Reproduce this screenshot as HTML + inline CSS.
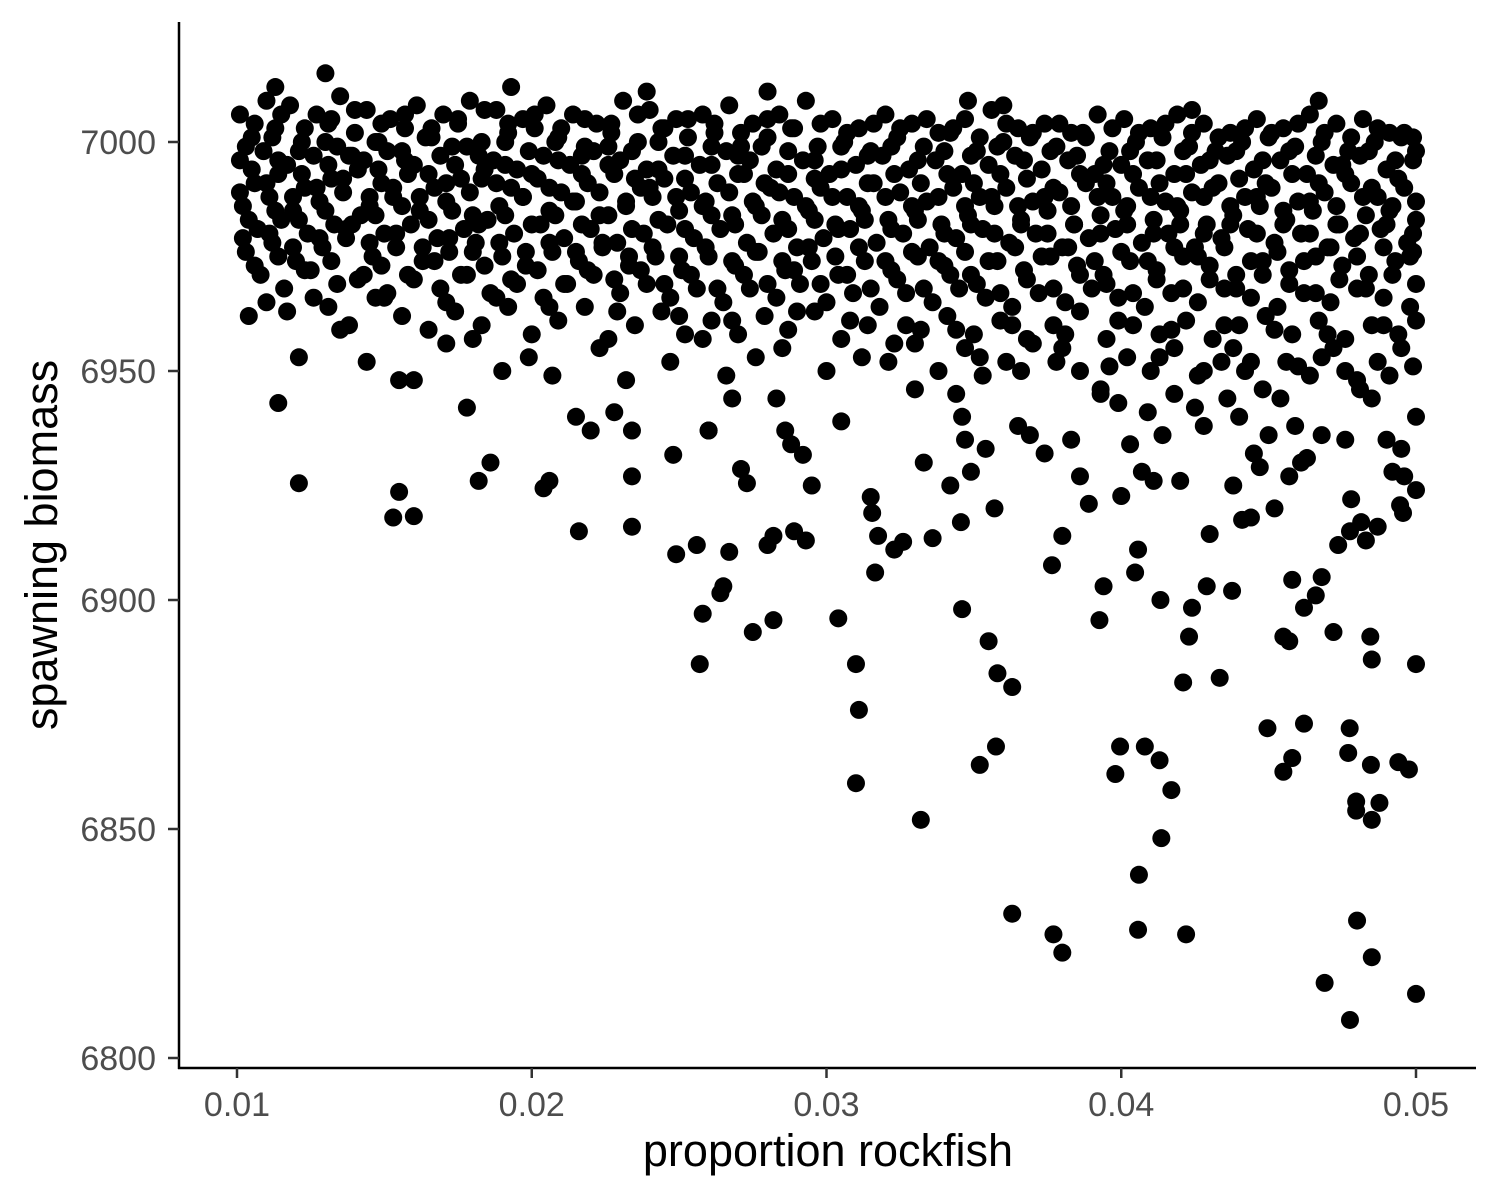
<!DOCTYPE html>
<html><head><meta charset="utf-8"><style>
html,body{margin:0;padding:0;background:#fff;}
svg{display:block;font-family:"Liberation Sans",Arial,sans-serif;}
</style></head><body>
<svg id="chart" width="1500" height="1200" viewBox="0 0 1500 1200" xmlns="http://www.w3.org/2000/svg">
<g id="points"></g>
<line x1="179" y1="22" x2="179" y2="1069" stroke="#000" stroke-width="2.5"/>
<line x1="178" y1="1068" x2="1476" y2="1068" stroke="#000" stroke-width="2.5"/>
<g id="axes"></g>
<text x="828" y="1166" font-size="45" text-anchor="middle" fill="#000">proportion rockfish</text>
<text transform="translate(57,545) rotate(-90)" font-size="45" text-anchor="middle" fill="#000">spawning biomass</text>
</svg>
<script>
// x values in units of 0.0001
const bandPoints = [
[101,7006],[110,7009],[118,7008],[127,7006],[135,7010],[144,7007],[152,7005],[161,7008],[170,7006],[179,7009],[188,7007],[197,7005],[205,7008],[214,7006],[222,7004],[231,7009],[240,7007],[249,7005],[258,7006],[267,7008],[275,7004],[284,7006],[293,7009],[302,7005],[311,7003],[320,7006],[329,7004],[338,7002],[347,7005],[356,7007],[365,7003],[374,7004],[383,7002],[392,7006],[401,7005],[410,7003],[419,7006],[428,7004],[437,7002],[446,7005],[455,7003],[464,7006],[473,7004],[482,7005],[491,7002],[499,7001],
[105,7001],[113,7003],[122,7000],[131,7004],[140,7002],[148,7000],[157,7003],[166,7001],[175,7004],[183,7000],[192,7002],[201,7003],[209,7001],[218,6999],[227,7002],[236,7000],[244,7003],[253,7001],[262,7002],[271,6999],[280,7001],[288,7003],[297,6999],[306,7000],[315,6998],[324,7001],[333,6999],[342,7002],[351,6998],[360,7000],[369,7001],[378,6999],[387,7002],[396,6998],[405,7000],[414,7001],[423,6999],[432,6998],[441,7000],[450,7001],[459,6999],[468,7000],[477,6998],[486,7000],[495,7001],
[101,6996],[109,6998],[117,6995],[126,6997],[134,6999],[143,6996],[151,6998],[160,6995],[169,6997],[178,6999],[187,6996],[195,6994],[204,6997],[213,6995],[221,6998],[230,6996],[239,6994],[248,6997],[257,6995],[266,6998],[274,6996],[283,6994],[292,6996],[301,6993],[310,6995],[319,6997],[328,6994],[337,6996],[346,6993],[355,6995],[364,6997],[373,6994],[382,6996],[391,6993],[400,6995],[409,6996],[418,6993],[427,6995],[436,6997],[445,6994],[454,6996],[463,6993],[472,6995],[481,6997],[490,6994],[499,6996],
[106,6991],[114,6993],[123,6990],[132,6992],[141,6994],[149,6991],[158,6993],[167,6990],[176,6992],[184,6994],[193,6990],[202,6992],[210,6989],[219,6991],[228,6993],[237,6990],[245,6992],[254,6989],[263,6991],[272,6993],[281,6990],[289,6988],[298,6990],[307,6988],[316,6991],[325,6989],[334,6987],[343,6990],[352,6988],[361,6990],[370,6987],[379,6989],[388,6991],[397,6988],[406,6990],[415,6987],[424,6989],[433,6991],[442,6988],[451,6990],[460,6987],[469,6989],[478,6991],[487,6988],[496,6990],
[102,6986],[111,6988],[119,6985],[128,6987],[136,6989],[145,6986],[153,6988],[162,6985],[171,6987],[180,6984],[189,6986],[197,6988],[206,6985],[215,6987],[223,6984],[232,6986],[241,6988],[250,6985],[259,6987],[268,6984],[276,6986],[285,6983],[294,6985],[303,6982],[312,6985],[321,6983],[330,6985],[339,6982],[348,6984],[357,6986],[366,6983],[375,6985],[384,6982],[393,6984],[402,6986],[411,6983],[420,6985],[429,6982],[438,6984],[447,6986],[456,6983],[465,6985],[474,6982],[483,6984],[492,6986],[500,6983],
[107,6981],[115,6983],[124,6980],[133,6982],[142,6984],[150,6980],[159,6982],[168,6979],[177,6981],[185,6983],[194,6980],[203,6982],[211,6979],[220,6981],[229,6978],[238,6980],[246,6982],[255,6979],[264,6981],[273,6978],[282,6980],[290,6977],[299,6979],[308,6981],[317,6978],[326,6980],[335,6977],[344,6979],[353,6981],[362,6978],[371,6980],[380,6977],[389,6979],[398,6981],[407,6978],[416,6980],[425,6977],[434,6979],[443,6981],[452,6978],[461,6980],[470,6977],[479,6979],[488,6981],[497,6978],
[103,6976],[112,6978],[120,6974],[129,6977],[137,6979],[146,6975],[154,6977],[163,6974],[172,6976],[181,6978],[190,6975],[198,6973],[207,6976],[216,6974],[224,6977],[233,6973],[242,6975],[251,6972],[260,6975],[269,6973],[277,6976],[286,6972],[295,6974],[304,6971],[313,6974],[322,6972],[331,6975],[340,6973],[349,6971],[358,6974],[367,6972],[376,6975],[385,6973],[394,6971],[403,6974],[412,6972],[421,6975],[430,6973],[439,6971],[448,6974],[457,6972],[466,6975],[475,6973],[484,6971],[493,6974],[499,6976],
[108,6971],[116,6968],[125,6972],[134,6969],[143,6971],[151,6967],[160,6970],[169,6968],[178,6971],[186,6967],[195,6969],[204,6966],[212,6969],[221,6971],[230,6967],[239,6969],[247,6966],[256,6968],[265,6965],[274,6968],[283,6966],[291,6969],[300,6965],[309,6967],[318,6964],[327,6967],[336,6965],[345,6968],[354,6966],[363,6964],[372,6967],[381,6965],[390,6968],[399,6966],[408,6964],[417,6967],[426,6965],[435,6968],[444,6966],[453,6964],[462,6967],[471,6965],[480,6968],[489,6966],[498,6964],
[104,6962],[117,6963],[126,6966],[138,6960],[147,6966],[156,6962],[165,6959],[174,6963],[183,6960],[192,6964],[200,6958],[209,6961],[218,6964],[226,6957],[235,6960],[244,6963],[252,6958],[261,6961],[270,6958],[279,6962],[287,6959],[296,6963],[305,6957],[314,6960],[323,6956],[332,6959],[341,6962],[350,6958],[359,6961],[368,6957],[377,6960],[386,6963],[395,6957],[404,6960],[413,6958],[422,6961],[431,6957],[440,6960],[449,6962],[458,6958],[467,6961],[476,6957],[485,6960],[494,6958],[500,6961],
[121,6953],[135,6959],[144,6952],[155,6948],[171,6956],[180,6957],[190,6950],[199,6953],[207,6949],[223,6955],[232,6948],[247,6952],[258,6957],[266,6949],[276,6953],[285,6955],[300,6950],[312,6953],[321,6952],[330,6956],[338,6950],[347,6955],[353,6949],[361,6952],[370,6956],[378,6952],[386,6950],[393,6946],[402,6953],[410,6950],[418,6955],[426,6949],[434,6952],[442,6950],[448,6946],[456,6952],[464,6949],[472,6955],[480,6948],[487,6952],[495,6955],[499,6951],
[113,7012],[130,7015],[193,7012],[239,7011],[280,7011],[348,7009],[360,7008],[467,7009],[424,7007]
];
const fillPoints = [
[106,7004],[115,7006],[123,7003],[132,7005],[140,7007],[149,7004],[157,7006],[166,7003],[175,7005],[184,7007],[192,7004],[201,7006],[210,7003],[218,7005],[227,7004],[236,7006],[245,7003],[253,7005],[262,7004],[271,7002],[280,7005],[289,7003],[298,7004],[307,7002],[316,7004],[325,7003],[334,7005],[343,7003],[352,7001],[361,7004],[370,7002],[379,7004],[388,7001],[397,7003],[406,7002],[415,7004],[424,7002],[433,7001],[442,7003],[451,7002],[460,7004],[469,7002],[478,7001],[487,7003],[496,7002],
[103,6999],[112,7001],[121,6998],[130,7000],[138,6997],[147,7000],[156,6998],[164,7001],[173,6999],[182,6997],[191,7000],[199,6998],[208,7000],[217,6997],[226,6999],[234,6998],[243,7000],[252,6997],[261,6999],[270,6997],[278,6999],[287,6998],[296,6996],[305,6999],[314,6997],[322,6999],[331,6996],[340,6998],[349,6997],[358,6999],[367,6996],[376,6998],[385,6997],[394,6995],[403,6998],[412,6996],[421,6998],[430,6996],[439,6998],[448,6996],[457,6998],[466,6997],[475,6995],[484,6998],[493,6996],[500,6998],
[105,6994],[114,6996],[122,6993],[131,6995],[139,6997],[148,6994],[157,6996],[165,6993],[174,6995],[183,6992],[191,6995],[200,6993],[209,6996],[217,6993],[226,6995],[235,6992],[243,6994],[252,6992],[261,6995],[270,6993],[279,6991],[287,6993],[296,6992],[305,6994],[314,6991],[323,6993],[332,6991],[341,6993],[350,6991],[359,6993],[368,6992],[377,6990],[386,6993],[395,6991],[404,6993],[413,6991],[422,6993],[431,6990],[440,6992],[449,6991],[458,6993],[467,6991],[476,6993],[485,6990],[494,6992],
[101,6989],[110,6991],[119,6988],[127,6990],[136,6992],[145,6988],[153,6990],[162,6988],[171,6991],[179,6989],[188,6991],[197,6988],[206,6990],[214,6987],[223,6989],[232,6987],[240,6990],[249,6988],[258,6986],[267,6989],[275,6987],[284,6989],[293,6986],[302,6988],[311,6986],[320,6988],[329,6986],[338,6988],[347,6986],[356,6988],[365,6986],[374,6988],[383,6986],[392,6988],[401,6985],[410,6988],[419,6986],[428,6988],[437,6986],[446,6988],[455,6985],[464,6987],[473,6986],[482,6988],[491,6985],[500,6987],
[104,6983],[113,6985],[121,6983],[130,6985],[139,6982],[147,6984],[156,6986],[165,6983],[173,6985],[182,6982],[191,6984],[200,6982],[208,6984],[217,6982],[226,6984],[234,6981],[243,6983],[252,6981],[261,6984],[269,6982],[278,6984],[287,6981],[296,6983],[304,6981],[313,6983],[322,6981],[331,6983],[340,6980],[349,6982],[357,6980],[366,6982],[375,6980],[384,6982],[393,6980],[402,6982],[411,6980],[420,6982],[428,6980],[437,6982],[446,6980],[455,6982],[464,6980],[473,6982],[481,6980],[490,6982],[499,6980],
[102,6979],[111,6980],[119,6977],[128,6979],[137,6981],[145,6978],[154,6980],[163,6977],[172,6979],[180,6976],[189,6978],[198,6976],[206,6978],[215,6976],[224,6978],[233,6975],[241,6977],[250,6975],[259,6977],[268,6974],[276,6976],[285,6974],[294,6977],[303,6975],[311,6977],[320,6974],[329,6976],[338,6974],[347,6976],[355,6974],[364,6977],[373,6975],[382,6977],[391,6974],[400,6976],[409,6974],[418,6977],[426,6975],[435,6977],[444,6974],[453,6976],[462,6974],[471,6977],[480,6975],[489,6977],[498,6975],
[106,6973],[114,6975],[123,6972],[132,6974],[141,6970],[149,6973],[158,6971],[167,6974],[176,6971],[184,6973],[193,6970],[202,6972],[211,6969],[219,6972],[228,6970],[237,6972],[245,6969],[254,6971],[263,6968],[272,6971],[280,6969],[289,6972],[298,6969],[307,6971],[315,6968],[324,6970],[333,6968],[342,6971],[351,6969],[359,6967],[368,6970],[377,6968],[386,6971],[395,6969],[404,6967],[412,6970],[421,6968],[430,6970],[439,6968],[448,6971],[457,6969],[466,6967],[474,6970],[483,6968],[492,6971],[500,6969],
[110,6965],[131,6964],[150,6966],[171,6965],[188,6966],[206,6964],[229,6963],[250,6962],[268,6961],[290,6963],[308,6961],[327,6960],[344,6959],[363,6960],[381,6958],[399,6961],[417,6959],[435,6960],[452,6959],[470,6958],[489,6960],
[352,6953],[366,6950],[380,6955],[396,6951],[413,6953],[428,6950],[444,6952],[460,6951],[476,6950],[491,6949],[438,6955],[468,6953]
];
const scatterPoints = [
[160,6948],[178,6942],[215,6940],[220,6937],[228,6941],[234,6937],[260,6937],[268,6944],[283,6944],[286,6937],[288,6934],[305,6939],[330,6946],[344,6945],[346,6940],[347,6935],[365,6938],[369,6936],[374,6932],[383,6935],[393,6945],[399,6943],[403,6934],[409,6941],[414,6936],[418,6945],[425,6942],[428,6938],[436,6944],[440,6940],[445,6932],[450,6936],[454,6944],[459,6938],[463,6931],[468,6936],[476,6935],[481,6946],[485,6944],[490,6935],[495,6933],[500,6940],
[342,6925],[349,6928],[354,6933],[357,6920],[386,6927],[389,6921],[407,6928],[411,6926],[420,6926],[438,6925],[447,6929],[452,6920],[457,6927],[461,6930],[478,6922],[492,6928],[496,6927],[500,6924]
];
const outlierPoints = [
[114,6943],[121,6925.5],[155,6923.6],[153,6918],[160,6918.3],[182,6926],[186,6930],[204,6924.4],[206,6926],[216,6915],[234,6927],[234,6916],[248,6931.7],[249,6910],[256,6912],[258,6897],[257,6886],[264,6901.5],[265,6903],[267,6910.5],[260,6937],[271,6928.6],[273,6925.5],[275,6893],[282,6895.6],[282,6914],[280,6912],[289,6915],[293,6913],[292,6931.7],[295,6925],[304,6896],[310,6886],[311,6876],[310,6860],[315,6922.5],[315.5,6919],[316.5,6906],[317.5,6914],[323,6911],[326,6912.7],[333,6930],[332,6852],[336,6913.5],[346,6898],[345.6,6917],[355,6891],[358,6884],[363,6881],[357.5,6868],[352,6864],[363,6831.5],[376.5,6907.6],[380,6914],[377,6827],[380,6823],[392.6,6895.6],[394,6903],[399.6,6868],[398,6862],[400,6922.7],[404.7,6906],[405.7,6911],[406,6840],[405.7,6828],[408,6868],[413,6865],[413.3,6900],[417,6858.5],[413.6,6848],[421,6882],[422,6827],[423,6892],[424,6898.3],[429,6903],[430,6914.4],[433.4,6883],[437.6,6902],[441,6917.5],[444,6918],[449.6,6872],[455,6862.5],[455,6892],[457,6891],[458,6865.5],[458,6904.4],[462,6898.3],[462,6873],[466,6901],[468,6905],[469,6816.4],[472,6893],[473.6,6912],[477.5,6872],[477,6866.6],[477.6,6808.3],[479.7,6856],[479.7,6854],[480,6830],[484.7,6864],[485,6852],[485,6822],[484.5,6892],[485,6887],[487.6,6855.7],[494,6864.6],[497.6,6863],[500,6886],[500,6814],[494.6,6920.7],[495.6,6919],[477.6,6915],[481.4,6917],[483,6913],[487,6916]
];
const xTicks = [0.01,0.02,0.03,0.04,0.05];
const xTickLabels = ["0.01","0.02","0.03","0.04","0.05"];
const yTicks = [6800,6850,6900,6950,7000];
const yTickLabels = ["6800","6850","6900","6950","7000"];

const NS = "http://www.w3.org/2000/svg";
function xScale(v){ return 237 + (v - 0.01) * 29475; }
function yScale(v){ return 142 + (7000 - v) * 4.58; }

const pg = document.getElementById('points');
[bandPoints, fillPoints, scatterPoints, outlierPoints].forEach(arr => {
  arr.forEach(p => {
    const c = document.createElementNS(NS, 'circle');
    c.setAttribute('cx', xScale(p[0] / 10000));
    c.setAttribute('cy', yScale(p[1]));
    c.setAttribute('r', 9);
    c.setAttribute('fill', '#000');
    
    
    pg.appendChild(c);
  });
});

const ag = document.getElementById('axes');
xTicks.forEach((t, i) => {
  const x = xScale(t);
  const l = document.createElementNS(NS, 'line');
  l.setAttribute('x1', x); l.setAttribute('x2', x);
  l.setAttribute('y1', 1068); l.setAttribute('y2', 1078);
  l.setAttribute('stroke', '#333'); l.setAttribute('stroke-width', 2.5);
  
  
  ag.appendChild(l);
  const tx = document.createElementNS(NS, 'text');
  tx.setAttribute('x', x); tx.setAttribute('y', 1116);
  tx.setAttribute('font-size', 34); tx.setAttribute('fill', '#4d4d4d');
  tx.setAttribute('text-anchor', 'middle');
  tx.textContent = xTickLabels[i];
  
  
  ag.appendChild(tx);
});
yTicks.forEach((t, i) => {
  const y = yScale(t);
  const l = document.createElementNS(NS, 'line');
  l.setAttribute('x1', 168); l.setAttribute('x2', 179);
  l.setAttribute('y1', y); l.setAttribute('y2', y);
  l.setAttribute('stroke', '#333'); l.setAttribute('stroke-width', 2.5);
  
  
  ag.appendChild(l);
  const tx = document.createElementNS(NS, 'text');
  tx.setAttribute('x', 156); tx.setAttribute('y', y + 12);
  tx.setAttribute('font-size', 34); tx.setAttribute('fill', '#4d4d4d');
  tx.setAttribute('text-anchor', 'end');
  tx.textContent = yTickLabels[i];
  
  
  ag.appendChild(tx);
});
</script>
</body></html>
